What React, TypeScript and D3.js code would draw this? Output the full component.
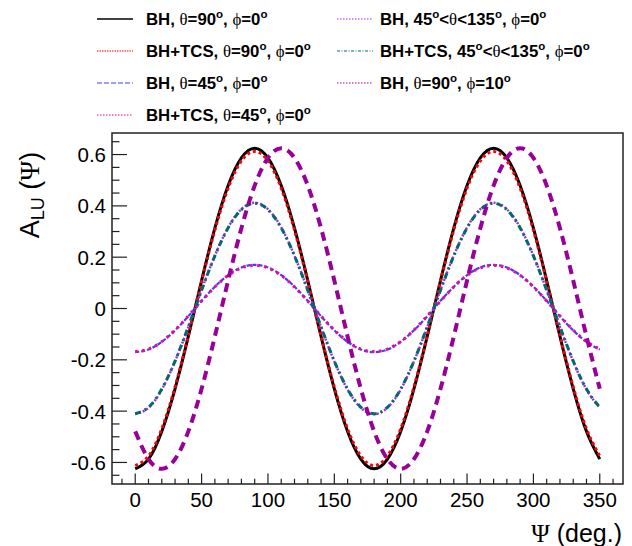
import React from "react";
import * as d3 from "d3";

const psi = [0,10,20,30,40,50,60,70,80,90,100,110,120,130,140,150,160,170,180,190,200,210,220,230,240,250,260,270,280,290,300,310,320,330,340,350];

const bh90 = [-0.625,-0.587,-0.479,-0.313,-0.109,0.109,0.313,0.479,0.587,0.625,0.587,0.479,0.313,0.109,-0.109,-0.313,-0.479,-0.587,-0.625,-0.587,-0.479,-0.313,-0.109,0.109,0.313,0.479,0.587,0.625,0.587,0.479,0.313,0.109,-0.109,-0.313,-0.479,-0.587];
const tcs90 = [-0.612,-0.575,-0.469,-0.306,-0.106,0.106,0.306,0.469,0.575,0.612,0.575,0.469,0.306,0.106,-0.106,-0.306,-0.469,-0.575,-0.612,-0.575,-0.469,-0.306,-0.106,0.106,0.306,0.469,0.575,0.612,0.575,0.469,0.306,0.106,-0.106,-0.306,-0.469,-0.575];
const bh45 = [-0.17,-0.16,-0.13,-0.085,-0.03,0.03,0.085,0.13,0.16,0.17,0.16,0.13,0.085,0.03,-0.03,-0.085,-0.13,-0.16,-0.17,-0.16,-0.13,-0.085,-0.03,0.03,0.085,0.13,0.16,0.17,0.16,0.13,0.085,0.03,-0.03,-0.085,-0.13,-0.16];
const tcs45 = [-0.168,-0.158,-0.129,-0.084,-0.029,0.029,0.084,0.129,0.158,0.168,0.158,0.129,0.084,0.029,-0.029,-0.084,-0.129,-0.158,-0.168,-0.158,-0.129,-0.084,-0.029,0.029,0.084,0.129,0.158,0.168,0.158,0.129,0.084,0.029,-0.029,-0.084,-0.129,-0.158];
const bhRange = [-0.412,-0.387,-0.316,-0.206,-0.072,0.072,0.206,0.316,0.387,0.412,0.387,0.316,0.206,0.072,-0.072,-0.206,-0.316,-0.387,-0.412,-0.387,-0.316,-0.206,-0.072,0.072,0.206,0.316,0.387,0.412,0.387,0.316,0.206,0.072,-0.072,-0.206,-0.316,-0.387];
const tcsRange = [-0.41,-0.385,-0.314,-0.205,-0.071,0.071,0.205,0.314,0.385,0.41,0.385,0.314,0.205,0.071,-0.071,-0.205,-0.314,-0.385,-0.41,-0.385,-0.314,-0.205,-0.071,0.071,0.205,0.314,0.385,0.41,0.385,0.314,0.205,0.071,-0.071,-0.205,-0.314,-0.385];
const bhPhi10 = [-0.479,-0.587,-0.625,-0.587,-0.479,-0.313,-0.109,0.109,0.313,0.479,0.587,0.625,0.587,0.479,0.313,0.109,-0.109,-0.313,-0.479,-0.587,-0.625,-0.587,-0.479,-0.313,-0.109,0.109,0.313,0.479,0.587,0.625,0.587,0.479,0.313,0.109,-0.109,-0.313];

const xTicks = [0,50,100,150,200,250,300,350];
const yTicks = [-0.6,-0.4,-0.2,0,0.2,0.4,0.6];

type Part = [string, boolean, boolean?]; // text, isSymbol, isSup
type Series = {
  values: number[];
  color: string;
  width: number;
  dash: string;
  legW: number;
  legDash: string;
  parts: Part[];
};

const series: Series[] = [
  { values: bh90, color: "#000000", width: 3, dash: "", legW: 1.5, legDash: "",
    parts: [["BH, ", false], ["θ", true], ["=90", false], ["o", false, true], [", ", false], ["ϕ", true], ["=0", false], ["o", false, true]] },
  { values: tcs90, color: "#ff0000", width: 3, dash: "3 3", legW: 1.2, legDash: "1.5 1",
    parts: [["BH+TCS, ", false], ["θ", true], ["=90", false], ["o", false, true], [", ", false], ["ϕ", true], ["=0", false], ["o", false, true]] },
  { values: bh45, color: "#3344ff", width: 2.2, dash: "4 2", legW: 1.2, legDash: "5 2",
    parts: [["BH, ", false], ["θ", true], ["=45", false], ["o", false, true], [", ", false], ["ϕ", true], ["=0", false], ["o", false, true]] },
  { values: tcs45, color: "#ff0099", width: 3, dash: "2.5 4.5", legW: 1.2, legDash: "1.5 1.5",
    parts: [["BH+TCS, ", false], ["θ", true], ["=45", false], ["o", false, true], [", ", false], ["ϕ", true], ["=0", false], ["o", false, true]] },
  { values: bhRange, color: "#aa22ee", width: 2.4, dash: "2 2", legW: 1.2, legDash: "1.5 1.5",
    parts: [["BH, 45", false], ["o", false, true], ["<", false], ["θ", true], ["<135", false], ["o", false, true], [", ", false], ["ϕ", true], ["=0", false], ["o", false, true]] },
  { values: tcsRange, color: "#006b6b", width: 3, dash: "6 4 2 4", legW: 1.2, legDash: "3 1.5 1 1.5",
    parts: [["BH+TCS, 45", false], ["o", false, true], ["<", false], ["θ", true], ["<135", false], ["o", false, true], [", ", false], ["ϕ", true], ["=0", false], ["o", false, true]] },
  { values: bhPhi10, color: "#990099", width: 4, dash: "9 6", legW: 1.2, legDash: "1.5 1.5",
    parts: [["BH, ", false], ["θ", true], ["=90", false], ["o", false, true], [", ", false], ["ϕ", true], ["=10", false], ["o", false, true]] },
];

const W = 632, H = 546;
const L = 112, R = 623, T = 133, B = 484;

export default function App() {
  const x = d3.scaleLinear().domain([-17.5, 367.5]).range([L, R]);
  const y = d3.scaleLinear().domain([-0.684, 0.684]).range([B, T]);
  const line = d3.line<number>().x((_, i) => x(psi[i])).y((d) => y(d)).curve(d3.curveNatural);

  const xMinor = d3.range(-10, 368, 10).filter((v) => v % 50 !== 0);
  const yMinor = d3.range(-0.65, 0.66, 0.05).map((v) => Math.round(v * 100) / 100).filter((v) => Math.abs(Math.round(v * 100) % 20) !== 0);

  const legendPos = (i: number) => {
    if (i < 4) return { lx: 97, tx: 146, yy: 19 + i * 32 };
    return { lx: 337, tx: 380, yy: 19 + (i - 4) * 32 };
  };

  const sans = "'Liberation Sans', Arial, Helvetica, sans-serif";
  const serif = "'Liberation Serif', 'Times New Roman', serif";

  return (
    <svg width={W} height={H} style={{ position: "absolute", left: 0, top: 0, background: "#fff" }}>
      <rect x={0} y={0} width={W} height={H} fill="#fff" />
      <defs>
        <clipPath id="plotclip">
          <rect x={L} y={T} width={R - L} height={B - T} />
        </clipPath>
      </defs>
      <g clipPath="url(#plotclip)">
        {series.map((s, i) => (
          <path key={i} d={line(s.values) || ""} fill="none" stroke={s.color} strokeWidth={s.width}
            strokeDasharray={s.dash || undefined} />
        ))}
      </g>
      <rect x={L} y={T} width={R - L} height={B - T} fill="none" stroke="#222" strokeWidth={1.5} />
      {xTicks.map((v) => (
        <g key={"xt" + v}>
          <line x1={x(v)} x2={x(v)} y1={B} y2={B - 10.5} stroke="#222" strokeWidth={1.2} />
          <text x={x(v)} y={507} textAnchor="middle" fontFamily={sans} fontSize={20.5} fill="#000">{v}</text>
        </g>
      ))}
      {xMinor.map((v) => (
        <line key={"xm" + v} x1={x(v)} x2={x(v)} y1={B} y2={B - 5.3} stroke="#222" strokeWidth={1.2} />
      ))}
      {yTicks.map((v) => (
        <g key={"yt" + v}>
          <line x1={L} x2={L + 15} y1={y(v)} y2={y(v)} stroke="#222" strokeWidth={1.2} />
          <text x={106} y={y(v) + 7.4} textAnchor="end" fontFamily={sans} fontSize={20.5} fill="#000">{v === 0 ? "0" : v.toFixed(1)}</text>
        </g>
      ))}
      {yMinor.map((v) => (
        <line key={"ym" + v} x1={L} x2={L + 7.5} y1={y(v)} y2={y(v)} stroke="#222" strokeWidth={1.2} />
      ))}
      <text x={622} y={542} textAnchor="end" fontFamily={sans} fontSize={25} fill="#000">
        <tspan fontFamily={serif}>Ψ</tspan> (deg.)
      </text>
      <g transform="translate(39,195) rotate(-90)">
        <text x={0} y={0} textAnchor="middle" fontFamily={sans} fontSize={27} fill="#000">
          A<tspan fontSize={18} dy={5}>LU</tspan><tspan dy={-5}> (</tspan><tspan fontFamily={serif}>Ψ</tspan>)
        </text>
      </g>
      {series.map((s, i) => {
        const p = legendPos(i);
        return (
          <g key={"lg" + i}>
            <line x1={p.lx} x2={p.lx + 36} y1={p.yy} y2={p.yy} stroke={s.color} strokeWidth={s.legW}
              strokeDasharray={s.legDash || undefined} />
            <text x={p.tx} y={p.yy + 6} fontFamily={sans} fontSize={16.8} fontWeight="bold" fill="#000">
              {s.parts.map((pt, j) => {
                const [t, sym, sup] = pt;
                if (sup) {
                  return <tspan key={j} fontSize={11.5} dy={-7}>{t}</tspan>;
                }
                const prevSup = j > 0 && s.parts[j - 1][2];
                return (
                  <tspan key={j} dy={prevSup ? 7 : 0} fontFamily={sym ? serif : sans} fontWeight={sym ? "normal" : "bold"}>{t}</tspan>
                );
              })}
            </text>
          </g>
        );
      })}
    </svg>
  );
}
